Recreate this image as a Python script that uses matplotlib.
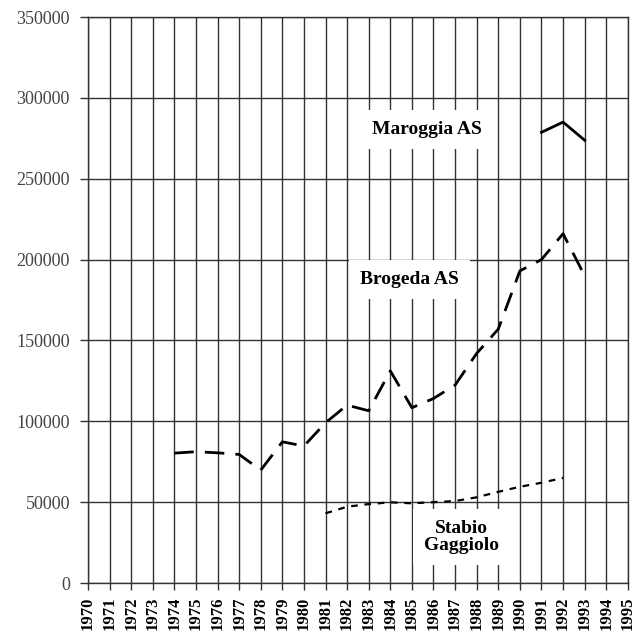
import matplotlib.pyplot as plt

# Years and traffic values
years_brogeda = [1974, 1975, 1976, 1977, 1978, 1979, 1980, 1981, 1982, 1983,
                 1984, 1985, 1986, 1987, 1988, 1989, 1990, 1991, 1992, 1993]
brogeda = [80300, 81200, 80500, 79500, 69800, 87300, 84700, 99100, 110000, 106500,
           131200, 108400, 114100, 122400, 142000, 157000, 193000, 200000, 216000, 190000]

years_maroggia = [1991, 1992, 1993]
maroggia = [278700, 285000, 273800]

years_stabio = [1981, 1982, 1983, 1984, 1985, 1986, 1987, 1988, 1989, 1990, 1991, 1992]
stabio = [43100, 47200, 48800, 49900, 49300, 50000, 50700, 53000, 56400, 59500, 62000, 65000]

plt.rcParams['font.family'] = ['Liberation Serif', 'DejaVu Serif']

fig = plt.figure(figsize=(6.4, 6.44), dpi=100)
ax = fig.add_axes([0.1375, 0.0947, 0.8435, 0.8789])

ax.set_xlim(1970, 1995)
ax.set_ylim(0, 350000)
ax.set_xticks(range(1970, 1996))
ax.set_xticklabels([str(y) for y in range(1970, 1996)], rotation=90,
                   fontsize=12, fontweight='bold')
ax.set_yticks(range(0, 350001, 50000))
ax.set_yticklabels([str(v) for v in range(0, 350001, 50000)], fontsize=13,
                   color='#444444')
ax.grid(True, color='#333333', linewidth=1.0)
ax.set_axisbelow(True)
ax.tick_params(axis='y', length=6, width=1, color='#333333', pad=7)
ax.tick_params(axis='x', length=5, width=1, color='#333333', pad=5)
for s in ax.spines.values():
    s.set_color('#333333')
    s.set_linewidth(1.0)

ax.plot(years_brogeda, brogeda, color='black', linewidth=2.0,
        dashes=(7, 4), zorder=3)
ax.plot(years_maroggia, maroggia, color='black', linewidth=2.0, zorder=3)
ax.plot(years_stabio, stabio, color='black', linewidth=1.6,
        dashes=(3, 3), zorder=3)

box = dict(facecolor='white', edgecolor='none', pad=8)
ax.text(1985.7, 280500, 'Maroggia AS', fontsize=14, fontweight='bold',
        ha='center', va='center', bbox=box, zorder=4)
ax.text(1984.9, 187500, 'Brogeda AS', fontsize=14, fontweight='bold',
        ha='center', va='center', bbox=box, zorder=4)
ax.text(1987.3, 28500, 'Stabio\nGaggiolo', fontsize=14, fontweight='bold',
        ha='center', va='center', linespacing=1.0, bbox=box, zorder=4)

fig.savefig('out.png', dpi=100)
